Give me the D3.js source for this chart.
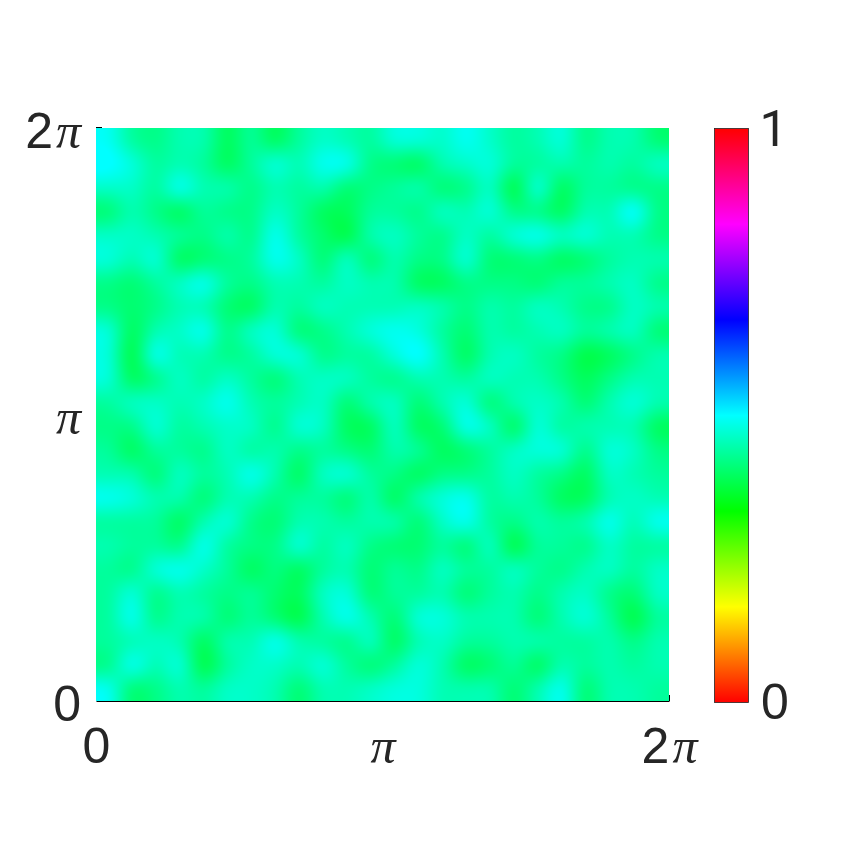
<!DOCTYPE html>
<html><head><meta charset="utf-8">
<script src="https://cdn.jsdelivr.net/npm/d3@7"></script>
<style>html,body{margin:0;padding:0;background:#fff}svg{position:absolute;left:0;top:0}canvas{position:absolute}</style>
</head><body>
<canvas id="field"></canvas>
<svg id="chart" width="860" height="860"></svg>
<script>
// Field estimate, top row first: 0 = greenest seen, 9 = cyan.
const fieldLevels = [
[8,4,3,5,5,1,4,1,4,6,5,4,7,7,6,8,6,4,5,7,3,5,5,2],
[9,7,4,5,4,1,4,7,5,8,8,3,2,1,5,6,7,4,4,5,4,5,4,6],
[6,6,4,8,5,5,3,5,4,5,2,3,4,5,2,3,6,0,7,1,4,4,3,3],
[2,5,3,1,4,3,3,6,4,1,1,4,4,3,6,5,7,3,3,1,5,5,9,3],
[6,6,5,4,3,5,3,8,4,2,0,5,6,4,3,6,4,7,8,6,7,5,5,3],
[7,5,7,1,2,3,4,8,6,2,6,2,5,3,3,7,2,2,3,1,2,4,5,5],
[3,2,4,6,8,4,3,5,5,4,6,5,5,1,1,3,3,3,2,4,4,5,6,3],
[3,2,3,5,5,2,1,5,4,6,5,5,5,6,5,3,5,4,6,5,3,3,6,5],
[7,1,5,6,8,3,6,7,2,3,5,7,8,7,4,2,5,4,5,6,4,5,6,2],
[7,0,8,5,5,3,4,7,7,3,4,4,7,9,5,1,5,6,4,3,0,1,3,5],
[7,1,3,6,4,6,4,2,5,6,6,4,3,5,5,4,6,5,5,3,1,3,5,5],
[4,6,6,5,6,8,5,4,5,6,2,5,6,2,5,7,2,5,6,5,2,5,7,5],
[3,3,7,4,5,6,6,3,7,6,1,1,6,1,2,8,6,1,7,4,5,5,5,1],
[4,1,4,4,3,6,4,5,3,4,3,2,5,4,1,2,4,6,7,7,3,7,6,3],
[5,5,2,6,4,5,8,5,1,6,7,4,3,1,3,3,4,6,4,3,1,6,5,4],
[8,7,5,5,2,5,5,3,4,4,2,5,1,5,7,8,4,5,4,1,1,5,6,5],
[4,4,4,1,5,7,3,2,5,5,4,5,5,2,6,8,4,3,5,4,5,8,5,8],
[5,4,4,3,8,4,3,3,7,4,6,3,2,2,4,2,6,0,4,4,3,6,4,4],
[4,3,7,8,6,4,1,3,1,4,5,2,4,3,6,4,4,6,4,3,5,6,4,6],
[4,7,3,5,4,3,4,2,1,6,7,2,4,4,5,2,4,5,3,5,6,3,2,6],
[4,8,3,5,5,2,4,2,0,5,8,5,2,7,7,5,5,5,2,5,7,4,0,4],
[4,5,6,5,1,5,5,8,5,4,3,6,1,5,6,4,4,5,5,4,4,5,3,5],
[3,8,5,7,0,4,6,6,5,7,4,2,4,7,5,1,2,4,1,5,4,5,4,5],
[8,2,3,5,4,6,6,5,2,5,5,6,7,7,5,5,5,2,5,8,2,5,5,4]
];
const xTicks = [0, Math.PI, 2 * Math.PI];
const yTicks = [0, Math.PI, 2 * Math.PI];
const xTickLabels = ["0", "π", "2π"];
const yTickLabels = ["0", "π", "2π"];
const barTicks = [0, 1];
const barTickLabels = ["0", "1"];

const L = 96, R = 669, T = 128, B = 701;
const x = d3.scaleLinear([0, 2 * Math.PI], [L, R]);
const y = d3.scaleLinear([0, 2 * Math.PI], [B, T]);
const levelToValue = d3.scaleLinear([0, 9], [0.375, 0.51]);
const color = d3.scaleSequential(t => d3.hsl(t * 360, 1, 0.5).formatRgb()).domain([0, 1]);

// Heatmap: smooth cubic resampling of the grid to pixels (between Catmull-Rom and B-spline).
const values = fieldLevels.map(r => r.map(levelToValue));
const n = values.length, m = values[0].length;
const bs = (a, b, c, d, s) => {
  const s2 = s * s, s3 = s2 * s;
  return (a * (1 - 3 * s + 3 * s2 - s3) + b * (4 - 6 * s2 + 3 * s3) + c * (1 + 3 * s + 3 * s2 - 3 * s3) + d * s3) / 6;
};
const cr = (a, b, c, d, s) => b + 0.5 * s * (c - a + s * (2 * a - 5 * b + 4 * c - d + s * (3 * (b - c) + d - a)));
const kern = (a, b, c, d, s) => 0.5 * bs(a, b, c, d, s) + 0.5 * cr(a, b, c, d, s);
const cl = (v, hi) => Math.max(0, Math.min(hi, v));
function sample(u, v) {
  const i = Math.floor(u), j = Math.floor(v), s = u - i, t = v - j;
  const row = k => { const r = values[cl(k, n - 1)];
    return kern(r[cl(i - 1, m - 1)], r[cl(i, m - 1)], r[cl(i + 1, m - 1)], r[cl(i + 2, m - 1)], s); };
  return kern(row(j - 1), row(j), row(j + 1), row(j + 2), t);
}
const canvas = document.getElementById("field");
const W = R - L, H = B - T;
canvas.width = W; canvas.height = H;
canvas.style.left = L + "px"; canvas.style.top = T + "px";
const ctx = canvas.getContext("2d");
const img = ctx.createImageData(W, H);
for (let py = 0; py < H; py++) for (let px = 0; px < W; px++) {
  const val = Math.min(0.5, sample((px + 0.5) / W * m - 0.5, (py + 0.5) / H * n - 0.5));
  const c = d3.rgb(color(val)); const o = (py * W + px) * 4;
  img.data[o] = c.r; img.data[o + 1] = c.g; img.data[o + 2] = c.b; img.data[o + 3] = 255;
}
ctx.putImageData(img, 0, 0);

const svg = d3.select("#chart");
const ink = "#262626";
const fontSans = "'Liberation Sans', Arial, sans-serif";
function label(sel, s) {
  sel.text(null).attr("font-family", fontSans).attr("font-size", 50).attr("fill", ink);
  [...s].forEach((ch, k) => {
    const t = sel.append("tspan").text(ch)
      .attr("font-family", ch === "π" ? "'Liberation Serif', serif" : ch === "1" ? "Roboto, sans-serif" : fontSans)
      .attr("font-style", ch === "π" ? "italic" : "normal");
    if (k > 0) t.attr("dx", 3);
  });
}
function styleAxis(g) {
  g.select(".domain").attr("stroke", "#000").attr("stroke-width", 1);
  g.selectAll(".tick line").attr("stroke", "#000").attr("stroke-width", 1);
}
// Axes: the image covers the inward ticks except at the outer corners.
const gx = svg.append("g").attr("transform", `translate(0,${B})`)
  .call(d3.axisBottom(x).tickValues(xTicks).tickSizeInner(-6).tickSizeOuter(0).tickPadding(0));
styleAxis(gx);
gx.selectAll(".tick line").attr("opacity", (d, i) => i === 2 ? 1 : 0);
gx.selectAll(".tick text").attr("dy", null).attr("y", 62).attr("text-anchor", "middle")
  .each(function (d, i) { label(d3.select(this), xTickLabels[i]); });

const gy = svg.append("g").attr("transform", `translate(${L},0)`)
  .call(d3.axisLeft(y).tickValues(yTicks).tickSizeInner(-6).tickSizeOuter(0).tickPadding(0));
gy.select(".domain").attr("stroke", "none");
gy.selectAll(".tick line").attr("stroke", "#000").attr("stroke-width", 1)
  .attr("opacity", (d, i) => i === 2 ? 1 : 0).attr("transform", "translate(0,-1)");
gy.selectAll(".tick text").attr("dy", null).attr("x", -15).attr("y", 19).attr("text-anchor", "end")
  .each(function (d, i) { label(d3.select(this), yTickLabels[i]); });

// Colorbar
const barL = 714.5, barR = 748.5, barT = 128.5, barB = 702.5;
const barY = d3.scaleLinear([0, 1], [barB, barT]);
const defs = svg.append("defs");
const grad = defs.append("linearGradient").attr("id", "hsvbar")
  .attr("x1", 0).attr("x2", 0).attr("y1", 1).attr("y2", 0);
d3.range(0, 1.0001, 1 / 6).forEach(t => grad.append("stop").attr("offset", t).attr("stop-color", color(t)));
svg.append("rect").attr("x", barL).attr("y", barT).attr("width", barR - barL).attr("height", barB - barT)
  .attr("fill", "url(#hsvbar)").attr("stroke", ink).attr("stroke-width", 0.8);
const gb = svg.append("g").attr("transform", `translate(${barR},0)`)
  .call(d3.axisRight(barY).tickValues(barTicks).tickSize(0).tickPadding(0));
gb.select(".domain").attr("stroke", "none");
gb.selectAll(".tick text").attr("dy", null).attr("x", d => d === 1 ? 11 : 12.5).attr("y", d => d === 1 ? 16.5 : 15.5).attr("text-anchor", "start")
  .each(function (d, i) { label(d3.select(this), barTickLabels[i]); });
</script>
</body></html>
